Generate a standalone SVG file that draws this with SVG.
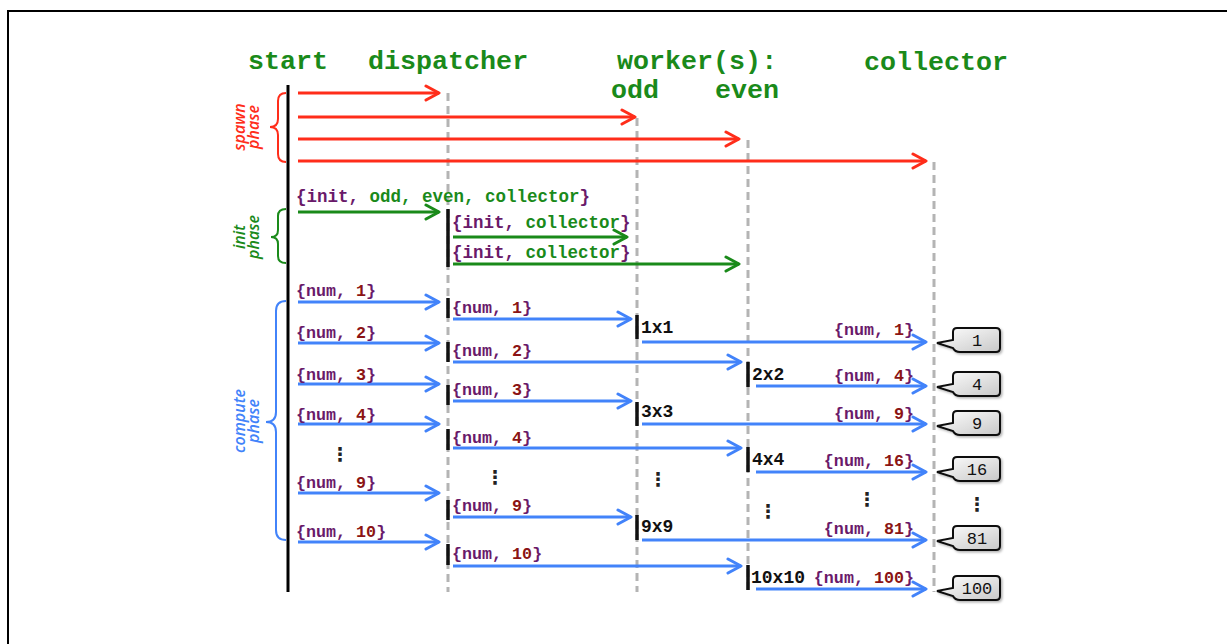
<svg xmlns="http://www.w3.org/2000/svg" width="1227" height="644" viewBox="0 0 1227 644">
<defs>
<style>
.title{font-family:"Liberation Mono","Courier New",monospace;font-weight:bold;font-size:26.7px;fill:#1a8a1a}
.msg{font-family:"Liberation Mono","Courier New",monospace;font-weight:bold;font-size:16.7px}
.imsg{font-family:"Liberation Mono","Courier New",monospace;font-weight:bold;font-size:17.5px}
.p{fill:#6a1a6a}
.n{fill:#8b1414}
.g{fill:#1a8a1a}
.calc{font-family:"Liberation Mono","Courier New",monospace;font-weight:bold;font-size:18px;fill:#111}
.bub{font-family:"Liberation Mono","Courier New",monospace;font-size:17px;fill:#111;text-anchor:middle}
.dots{font-family:"DejaVu Sans",sans-serif;font-weight:bold;font-size:19px;fill:#222;text-anchor:middle}
.phase{font-family:"Open Sans","Liberation Sans",sans-serif;font-style:italic;font-weight:600;font-size:16px;text-anchor:middle}
.life{stroke:#b4b4b4;stroke-width:3;stroke-dasharray:8 5;fill:none}
.bar{stroke:#111;stroke-width:3.5}
.red{stroke:#ff2d1a;stroke-width:3;fill:none;marker-end:url(#ar)}
.grn{stroke:#1a8a1a;stroke-width:3;fill:none;marker-end:url(#ag)}
.blu{stroke:#4283fa;stroke-width:3;fill:none;marker-end:url(#ab)}
.brace{fill:none;stroke-width:2}
.bubble{fill:url(#bg);stroke:#111;stroke-width:2;filter:url(#sh)}
</style>
<marker id="ar" markerUnits="userSpaceOnUse" viewBox="-16 -10 18 20" refX="0" refY="0" markerWidth="18" markerHeight="20" orient="auto"><path d="M-13,-7 L0,0 L-13,7" fill="none" stroke="#ff2d1a" stroke-width="3" stroke-linejoin="round" stroke-linecap="round"/></marker>
<marker id="ag" markerUnits="userSpaceOnUse" viewBox="-16 -10 18 20" refX="0" refY="0" markerWidth="18" markerHeight="20" orient="auto"><path d="M-13,-7 L0,0 L-13,7" fill="none" stroke="#1a8a1a" stroke-width="3" stroke-linejoin="round" stroke-linecap="round"/></marker>
<marker id="ab" markerUnits="userSpaceOnUse" viewBox="-16 -10 18 20" refX="0" refY="0" markerWidth="18" markerHeight="20" orient="auto"><path d="M-13,-7 L0,0 L-13,7" fill="none" stroke="#4283fa" stroke-width="3" stroke-linejoin="round" stroke-linecap="round"/></marker>
<linearGradient id="bg" x1="0" y1="0" x2="1" y2="1"><stop offset="0" stop-color="#ffffff"/><stop offset="1" stop-color="#c8c8c8"/></linearGradient>
<filter id="sh" x="-20%" y="-30%" width="150%" height="170%"><feDropShadow dx="1.5" dy="1.5" stdDeviation="1.2" flood-color="#000" flood-opacity="0.3"/></filter>
</defs>
<rect x="8" y="11" width="1240" height="660" fill="#fff" stroke="#000" stroke-width="2"/>

<g id="start">
<text class="title" x="248" y="69">start</text>
<line x1="288" y1="85" x2="288" y2="592" stroke="#000" stroke-width="3"/>
</g>
<g id="dispatcher">
<text class="title" x="368" y="69">dispatcher</text>
<line class="life" x1="448" y1="93" x2="448" y2="592"/>
<line class="bar" x1="448" y1="209" x2="448" y2="267"/>
<line class="bar" x1="448" y1="298" x2="448" y2="318"/>
<line class="bar" x1="448" y1="342" x2="448" y2="362"/>
<line class="bar" x1="448" y1="385" x2="448" y2="405"/>
<line class="bar" x1="448" y1="429" x2="448" y2="450"/>
<line class="bar" x1="448" y1="500" x2="448" y2="520"/>
<line class="bar" x1="448" y1="544" x2="448" y2="565"/>
</g>
<g id="workers">
<text class="title" x="617" y="69">worker(s):</text>
</g>
<g id="odd">
<text class="title" x="611" y="98">odd</text>
<line class="life" x1="637" y1="118" x2="637" y2="592"/>
<line class="bar" x1="637" y1="315" x2="637" y2="339"/>
<line class="bar" x1="637" y1="402" x2="637" y2="426"/>
<line class="bar" x1="637" y1="515" x2="637" y2="540"/>
<text class="calc" x="641" y="333">1x1</text>
<text class="calc" x="641" y="417">3x3</text>
<text class="calc" x="641" y="532">9x9</text>
<text class="dots" x="658" y="486">⋮</text>
</g>
<g id="even">
<text class="title" x="715" y="98">even</text>
<line class="life" x1="748" y1="140" x2="748" y2="592"/>
<line class="bar" x1="748" y1="362" x2="748" y2="387"/>
<line class="bar" x1="748" y1="447" x2="748" y2="472"/>
<line class="bar" x1="748" y1="565" x2="748" y2="590"/>
<text class="calc" x="752" y="380">2x2</text>
<text class="calc" x="752" y="465">4x4</text>
<text class="calc" x="751" y="583">10x10</text>
<text class="dots" x="768" y="518">⋮</text>
</g>
<g id="collector">
<text class="title" x="864" y="70">collector</text>
<line class="life" x1="934" y1="162" x2="934" y2="592"/>
</g>

<g id="phases">
<path class="brace" stroke="#ff2d1a" d="M286,93 Q278,93 278,101 L278,119 Q278,127 270,127 Q278,127 278,135 L278,154 Q278,162 286,162"/>
<text class="phase" fill="#ff2d1a" transform="translate(245,127) rotate(-90)"><tspan x="0" y="0">spawn</tspan><tspan x="0" y="14">phase</tspan></text>
<path class="brace" stroke="#1a8a1a" d="M286,209 Q278,209 278,216 L278,230 Q278,237 271,237 Q278,237 278,244 L278,256 Q278,263 286,263"/>
<text class="phase" fill="#1a8a1a" transform="translate(245,237) rotate(-90)"><tspan x="0" y="0">init</tspan><tspan x="0" y="14">phase</tspan></text>
<path class="brace" stroke="#4283fa" d="M286,301 Q276,301 276,311 L276,412 Q276,422 266,422 Q276,422 276,432 L276,530 Q276,540 286,540"/>
<text class="phase" fill="#4283fa" transform="translate(245,421) rotate(-90)"><tspan x="0" y="0">compute</tspan><tspan x="0" y="14">phase</tspan></text>
</g>

<g id="connectors">
<line class="red" x1="298" y1="93" x2="439" y2="93"/>
<line class="red" x1="298" y1="117" x2="635" y2="117"/>
<line class="red" x1="298" y1="139" x2="739" y2="139"/>
<line class="red" x1="298" y1="161" x2="926" y2="161"/>

<line class="grn" x1="298" y1="212" x2="439" y2="212"/>
<line class="grn" x1="453" y1="237" x2="627" y2="237"/>
<line class="grn" x1="453" y1="264" x2="739" y2="264"/>

<line class="blu" x1="298" y1="302" x2="439" y2="302"/>
<line class="blu" x1="298" y1="343" x2="439" y2="343"/>
<line class="blu" x1="298" y1="384" x2="439" y2="384"/>
<line class="blu" x1="298" y1="424" x2="439" y2="424"/>
<line class="blu" x1="298" y1="493" x2="439" y2="493"/>
<line class="blu" x1="298" y1="542" x2="439" y2="542"/>

<line class="blu" x1="453" y1="319" x2="631" y2="319"/>
<line class="blu" x1="453" y1="362" x2="741" y2="362"/>
<line class="blu" x1="453" y1="401" x2="631" y2="401"/>
<line class="blu" x1="453" y1="448" x2="741" y2="448"/>
<line class="blu" x1="453" y1="517" x2="631" y2="517"/>
<line class="blu" x1="453" y1="566" x2="741" y2="566"/>

<line class="blu" x1="642" y1="342" x2="926" y2="342"/>
<line class="blu" x1="756" y1="386" x2="926" y2="386"/>
<line class="blu" x1="642" y1="424" x2="926" y2="424"/>
<line class="blu" x1="756" y1="472" x2="926" y2="472"/>
<line class="blu" x1="642" y1="540" x2="926" y2="540"/>
<line class="blu" x1="756" y1="589" x2="926" y2="589"/>
</g>

<g id="labels">
<text class="imsg" x="296" y="202"><tspan class="p">{init, </tspan><tspan class="g">odd, even, collector</tspan><tspan class="p">}</tspan></text>
<text class="imsg" x="452" y="228"><tspan class="p">{init, </tspan><tspan class="g">collector</tspan><tspan class="p">}</tspan></text>
<text class="imsg" x="452" y="258"><tspan class="p">{init, </tspan><tspan class="g">collector</tspan><tspan class="p">}</tspan></text>

<text class="msg" x="296" y="296"><tspan class="p">{num, </tspan><tspan class="n">1</tspan><tspan class="p">}</tspan></text>
<text class="msg" x="296" y="338"><tspan class="p">{num, </tspan><tspan class="n">2</tspan><tspan class="p">}</tspan></text>
<text class="msg" x="296" y="380"><tspan class="p">{num, </tspan><tspan class="n">3</tspan><tspan class="p">}</tspan></text>
<text class="msg" x="296" y="420"><tspan class="p">{num, </tspan><tspan class="n">4</tspan><tspan class="p">}</tspan></text>
<text class="dots" x="340" y="461">⋮</text>
<text class="msg" x="296" y="488"><tspan class="p">{num, </tspan><tspan class="n">9</tspan><tspan class="p">}</tspan></text>
<text class="msg" x="296" y="537"><tspan class="p">{num, </tspan><tspan class="n">10</tspan><tspan class="p">}</tspan></text>

<text class="msg" x="452" y="313"><tspan class="p">{num, </tspan><tspan class="n">1</tspan><tspan class="p">}</tspan></text>
<text class="msg" x="452" y="356"><tspan class="p">{num, </tspan><tspan class="n">2</tspan><tspan class="p">}</tspan></text>
<text class="msg" x="452" y="395"><tspan class="p">{num, </tspan><tspan class="n">3</tspan><tspan class="p">}</tspan></text>
<text class="msg" x="452" y="443"><tspan class="p">{num, </tspan><tspan class="n">4</tspan><tspan class="p">}</tspan></text>
<text class="dots" x="495" y="484">⋮</text>
<text class="msg" x="452" y="511"><tspan class="p">{num, </tspan><tspan class="n">9</tspan><tspan class="p">}</tspan></text>
<text class="msg" x="452" y="559"><tspan class="p">{num, </tspan><tspan class="n">10</tspan><tspan class="p">}</tspan></text>

<text class="msg" x="914" y="335" text-anchor="end"><tspan class="p">{num, </tspan><tspan class="n">1</tspan><tspan class="p">}</tspan></text>
<text class="msg" x="914" y="381" text-anchor="end"><tspan class="p">{num, </tspan><tspan class="n">4</tspan><tspan class="p">}</tspan></text>
<text class="msg" x="914" y="419" text-anchor="end"><tspan class="p">{num, </tspan><tspan class="n">9</tspan><tspan class="p">}</tspan></text>
<text class="msg" x="914" y="466" text-anchor="end"><tspan class="p">{num, </tspan><tspan class="n">16</tspan><tspan class="p">}</tspan></text>
<text class="dots" x="867" y="506">⋮</text>
<text class="msg" x="914" y="534" text-anchor="end"><tspan class="p">{num, </tspan><tspan class="n">81</tspan><tspan class="p">}</tspan></text>
<text class="msg" x="914" y="583" text-anchor="end"><tspan class="p">{num, </tspan><tspan class="n">100</tspan><tspan class="p">}</tspan></text>
</g>

<g id="results">
<g id="r1"><path class="bubble" d="M957,328 H996 Q1000,328 1000,332 V348 Q1000,352 996,352 H960 Q955,352 953,348 L937,343 L953,340 V332 Q953,328 957,328 Z"/><text class="bub" x="977" y="346">1</text></g>
<g id="r4"><path class="bubble" d="M957,372 H996 Q1000,372 1000,376 V392 Q1000,396 996,396 H960 Q955,396 953,392 L937,387 L953,384 V376 Q953,372 957,372 Z"/><text class="bub" x="977" y="390">4</text></g>
<g id="r9"><path class="bubble" d="M957,411 H996 Q1000,411 1000,415 V431 Q1000,435 996,435 H960 Q955,435 953,431 L937,426 L953,423 V415 Q953,411 957,411 Z"/><text class="bub" x="977" y="429">9</text></g>
<g id="r16"><path class="bubble" d="M957,457 H996 Q1000,457 1000,461 V477 Q1000,481 996,481 H960 Q955,481 953,477 L937,472 L953,469 V461 Q953,457 957,457 Z"/><text class="bub" x="977" y="475">16</text></g>
<text class="dots" x="977" y="511">⋮</text>
<g id="r81"><path class="bubble" d="M957,526 H996 Q1000,526 1000,530 V546 Q1000,550 996,550 H960 Q955,550 953,546 L937,541 L953,538 V530 Q953,526 957,526 Z"/><text class="bub" x="977" y="544">81</text></g>
<g id="r100"><path class="bubble" d="M957,576 H996 Q1000,576 1000,580 V596 Q1000,600 996,600 H960 Q955,600 953,596 L937,591 L953,588 V580 Q953,576 957,576 Z"/><text class="bub" x="977" y="594">100</text></g>
</g>
</svg>
